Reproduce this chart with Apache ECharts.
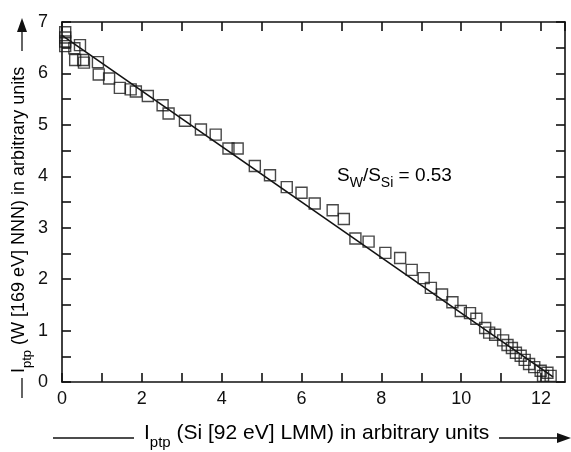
<!DOCTYPE html>
<html><head><meta charset="utf-8">
<script src="https://cdn.jsdelivr.net/npm/echarts@6/dist/echarts.min.js"></script>
<style>html,body{margin:0;padding:0;background:#fff}#c{width:571px;height:452px}</style>
</head><body><div id="c"></div>
<script>
// Measured points: I_ptp(Si) vs I_ptp(W)
const siValues = [0.08,0.08,0.08,0.08,0.31,0.45,0.33,0.53,0.55,0.90,0.92,1.18,1.45,1.72,1.85,2.15,2.52,2.67,3.08,3.48,3.85,4.17,4.40,4.83,5.21,5.63,6.00,6.33,6.78,7.06,7.35,7.68,8.10,8.47,8.76,9.06,9.24,9.52,9.78,9.99,10.22,10.38,10.60,10.70,10.85,11.05,11.16,11.27,11.37,11.49,11.59,11.70,11.83,11.99,12.05,12.16,12.24];
const wValues  = [6.80,6.70,6.62,6.53,6.49,6.55,6.26,6.26,6.21,6.22,5.98,5.90,5.72,5.69,5.65,5.56,5.38,5.22,5.08,4.91,4.81,4.54,4.54,4.20,4.02,3.79,3.68,3.47,3.34,3.17,2.79,2.73,2.51,2.41,2.18,2.02,1.83,1.70,1.55,1.38,1.34,1.23,1.05,0.96,0.92,0.81,0.72,0.66,0.57,0.51,0.43,0.35,0.29,0.22,0.12,0.18,0.12];
// Fitted line endpoints
const fitX = [0, 12.3];
const fitY = [6.74, 0.10];
const xLabelValues = [0,2,4,6,8,10,12];
const yLabelValues = [0,1,2,3,4,5,6,7];

const FONT = '"Liberation Sans", Arial, Helvetica, sans-serif';
const chart = echarts.init(document.getElementById('c'), null, {renderer:'canvas'});
const scatterData = siValues.map((x,i)=>[x, wValues[i]]);
const lineData = fitX.map((x,i)=>[x, fitY[i]]);
const axisLineStyle = {lineStyle:{color:'#111', width:1.6}};
const tickStyle = {inside:true, length:9, lineStyle:{color:'#111', width:1.6}};
function rich(big, small, pad){
  return {
    n:{fontSize:big, color:'#111', fontFamily:FONT, verticalAlign:'bottom', padding:[0,0,pad,0]},
    sub:{fontSize:small, color:'#111', fontFamily:FONT, verticalAlign:'bottom'}
  };
}
function xAx(pos, show){
  return {type:'value', position:pos, min:0, max:12.6, interval:1,
    axisLine:Object.assign({onZero:false}, axisLineStyle), axisTick:tickStyle, splitLine:{show:false},
    axisLabel:{show:show, margin:8, color:'#111', fontSize:18, fontFamily:FONT, showMaxLabel:false,
      formatter:v=> xLabelValues.includes(v) ? String(v) : ''}};
}
function yAx(pos, show){
  return {type:'value', position:pos, min:0, max:7, interval:0.5,
    axisLine:Object.assign({onZero:false}, axisLineStyle), axisTick:tickStyle, splitLine:{show:false},
    axisLabel:{show:show, margin:14, color:'#111', fontSize:18, fontFamily:FONT,
      formatter:v=> yLabelValues.includes(v) ? String(v) : ''}};
}
chart.setOption({
  animation:false,
  backgroundColor:'#fff',
  grid:{left:62, top:22, right:6, bottom:70, containLabel:false},
  xAxis:[xAx('bottom', true), xAx('top', false)],
  yAxis:[yAx('left', true), yAx('right', false)],
  series:[
    {type:'line', data:lineData, showSymbol:false, symbol:'none', lineStyle:{color:'#111', width:1.6}, z:3},
    {type:'scatter', data:scatterData, symbol:'rect', symbolSize:11,
      itemStyle:{color:'rgba(0,0,0,0)', borderColor:'#1a1a1a', borderWidth:1.4}, z:4}
  ],
  graphic:[
    {type:'text', left:337, top:166, style:{text:'{n|S}{sub|W}{n|/S}{sub|Si}{n| = 0.53}', rich:rich(19,14,5)}},
    // x axis title
    {type:'line', shape:{x1:53, y1:438, x2:134, y2:438}, style:{stroke:'#111', lineWidth:1.3}},
    {type:'text', left:144, top:423, style:{text:'{n|I}{sub|ptp}{n| (Si [92 eV] LMM) in arbitrary units}', rich:rich(21,15,6)}},
    {type:'line', shape:{x1:499, y1:438, x2:560, y2:438}, style:{stroke:'#111', lineWidth:1.3}},
    {type:'polygon', shape:{points:[[571,438],[557,433],[557,443]]}, style:{fill:'#111'}},
    // y axis title (rotated, reading bottom-to-top)
    {type:'line', shape:{x1:22, y1:398, x2:22, y2:378}, style:{stroke:'#111', lineWidth:1.3}},
    {type:'group', x:22, y:373, rotation:Math.PI/2, children:[
      {type:'text', x:0, y:0, style:{text:'{n|I}{sub|ptp}{n| (W [169 eV] NNN) in arbitrary units}', rich:rich(18,13,5), align:'left', verticalAlign:'middle'}}
    ]},
    {type:'line', shape:{x1:22, y1:51, x2:22, y2:30}, style:{stroke:'#111', lineWidth:1.3}},
    {type:'polygon', shape:{points:[[22,18],[17,32],[27,32]]}, style:{fill:'#111'}}
  ]
});
</script></body></html>
